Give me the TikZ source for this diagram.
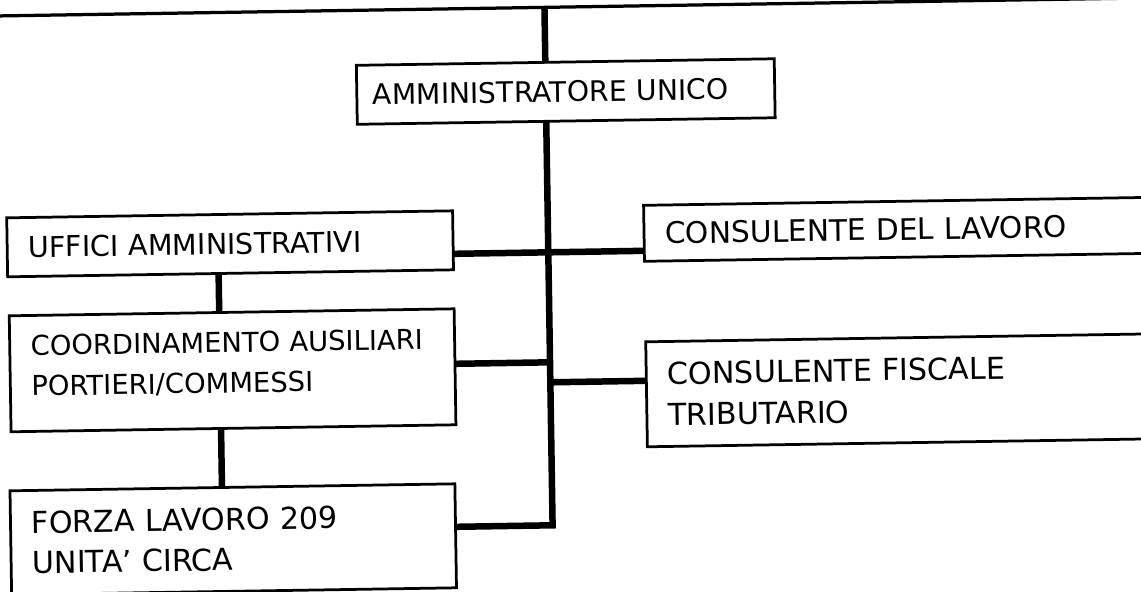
\documentclass[tikz,border=0pt]{standalone}
\usepackage{fontspec}
\setmainfont{DejaVu Sans}
\usepackage{tikz}

\begin{document}
\begin{tikzpicture}[x=0.02cm,y=-0.02cm]
	\tikzstyle{casella}=[rectangle,draw,line width=0.055cm,outer sep=0pt,anchor=north west,align=left,inner xsep=0.42cm,inner ysep=0pt]
	\tikzstyle{linea}=[line width=0.13cm]
	\useasboundingbox (0,0) rectangle (1141,591);
	\begin{scope}[rotate around={0.9:(570,296)},transform shape]
	\node[casella,inner xsep=0.32cm,text width=7.72cm,font=\fontsize{16.1pt}{23pt}\selectfont,text height=11.74pt,text depth=0pt,minimum height=1.18cm] (amm) at (360,62) {AMMINISTRATORE UNICO};
	\node[casella,text width=8.08cm,font=\fontsize{16.3pt}{23pt}\selectfont,text height=11.88pt,text depth=0pt,minimum height=1.18cm] (uff) at (8,209) {UFFICI AMMINISTRATIVI};
	\node[casella,text width=8.06cm,font=\fontsize{15.6pt}{23pt}\selectfont,text height=11.37pt,text depth=31.8pt,minimum height=2.32cm] (coord) at (9,307) {COORDINAMENTO AUSILIARI\\PORTIERI/COMMESSI};
	\node[casella,text width=8.06cm,font=\fontsize{17.2pt}{23pt}\selectfont,text height=12.54pt,text depth=23pt,minimum height=2.08cm] (forza) at (7,482) {FORZA LAVORO 209\\UNITA' CIRCA};
	\node[casella,text width=10.36cm,font=\fontsize{16.9pt}{23pt}\selectfont,text height=12.32pt,text depth=0pt,minimum height=1.12cm] (lav) at (645,206.5) {CONSULENTE DEL LAVORO};
	\node[casella,text width=10.36cm,font=\fontsize{17.2pt}{23.5pt}\selectfont,text height=12.54pt,text depth=23.5pt,minimum height=2.1cm] (fisc) at (645,343) {CONSULENTE FISCALE\\TRIBUTARIO};
	\coordinate (sx) at (-30,7);
	\coordinate (dx) at (1220,7);
	\coordinate (cima) at (549,7);
	\coordinate (fondo) at (549,525);
	\coordinate (j1) at (549,252);
	\coordinate (j2) at (549,362);
	\coordinate (j3) at (549,382);
	\coordinate (col) at (219,400);
	\draw[line width=0.065cm] (sx) -- (dx);
	\draw[linea] (cima) -- (cima |- amm.north);
	\draw[linea] (cima |- amm.south) -- (fondo) -- (fondo -| forza.east);
	\draw[linea] (j1 -| uff.east) -- (j1 -| lav.west);
	\draw[linea] (j2 -| coord.east) -- (j2);
	\draw[linea] (j3) -- (j3 -| fisc.west);
	\draw[linea] (uff.south -| col) -- (col |- coord.north);
	\draw[linea] (coord.south -| col) -- (col |- forza.north);
	\end{scope}
\end{tikzpicture}
\end{document}
